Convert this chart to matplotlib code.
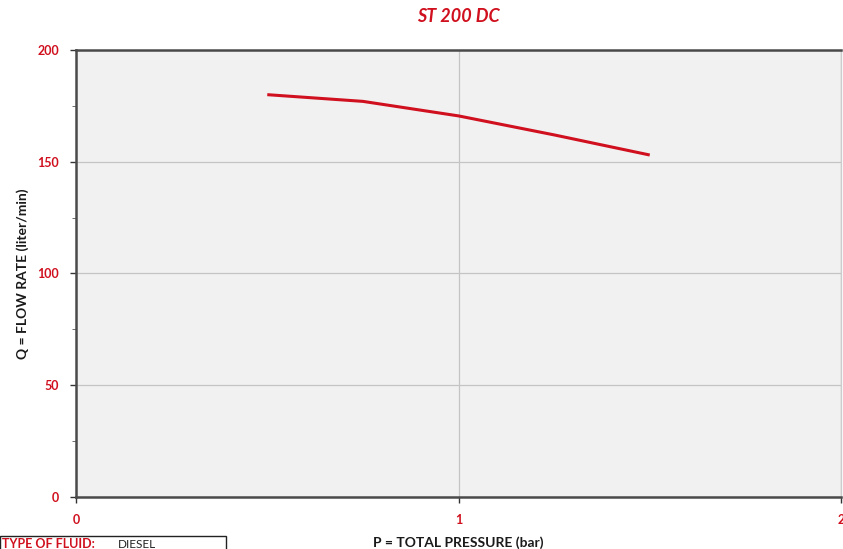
import matplotlib.pyplot as plt
from matplotlib.patches import Rectangle
from matplotlib.ticker import MultipleLocator

# Pump curve data
pressure = [0.5, 0.75, 1.0, 1.25, 1.5]
flow = [180, 177, 170.5, 162, 153]
x_ticks = [0, 1, 2]
y_ticks = [0, 50, 100, 150, 200]

red = '#d0101e'
plt.rcParams['font.family'] = ['Lato', 'DejaVu Sans']

fig = plt.figure(figsize=(8.43, 5.49), dpi=100)
ax = fig.add_axes([0.0902, 0.0947, 0.9074, 0.8143])
ax.set_facecolor('#f1f1f1')

ax.plot(pressure, flow, color=red, lw=2.2, solid_capstyle='butt')

ax.set_xlim(0, 2)
ax.set_ylim(0, 200)
ax.set_xticks(x_ticks)
ax.set_yticks(y_ticks)
ax.yaxis.set_minor_locator(MultipleLocator(25))
ax.grid(True, color='#c4c4c4', lw=0.9)
ax.set_axisbelow(True)

ax.tick_params(axis='both', colors='#333333', labelcolor=red, labelsize=9,
               length=4, width=1)
ax.tick_params(axis='y', which='minor', length=3, color='#555555')
for lab in ax.get_xticklabels() + ax.get_yticklabels():
    lab.set_fontweight('bold')
ax.tick_params(axis='x', pad=8)
ax.tick_params(axis='y', pad=8)

for s in ['left', 'top', 'bottom']:
    ax.spines[s].set_color('#4a4a4a')
    ax.spines[s].set_linewidth(1.8)
ax.spines['right'].set_color('#cccccc')
ax.spines['right'].set_linewidth(1)

ax.set_xlabel('P = TOTAL PRESSURE (bar)', fontsize=10, fontweight='bold',
              color='#1a1a1a', labelpad=8)
ax.set_ylabel('Q = FLOW RATE (liter/min)', fontsize=10, fontweight='bold',
              color='#1a1a1a', labelpad=6)
ax.set_title('ST 200 DC', fontsize=13, fontweight='bold', style='italic',
             color=red, pad=20)

# fluid type box, running off the bottom edge
fig.patches.append(Rectangle((0, -0.05), 226 / 843, 0.073, transform=fig.transFigure,
                             fill=False, edgecolor='#222222', lw=1))
fig.text(0.002, 0.009, 'TYPE OF FLUID:', color=red, fontsize=9, fontweight='bold',
         va='center')
fig.text(0.14, 0.009, 'DIESEL', color='#222222', fontsize=8.5, va='center')

fig.savefig('out.png', dpi=100)
